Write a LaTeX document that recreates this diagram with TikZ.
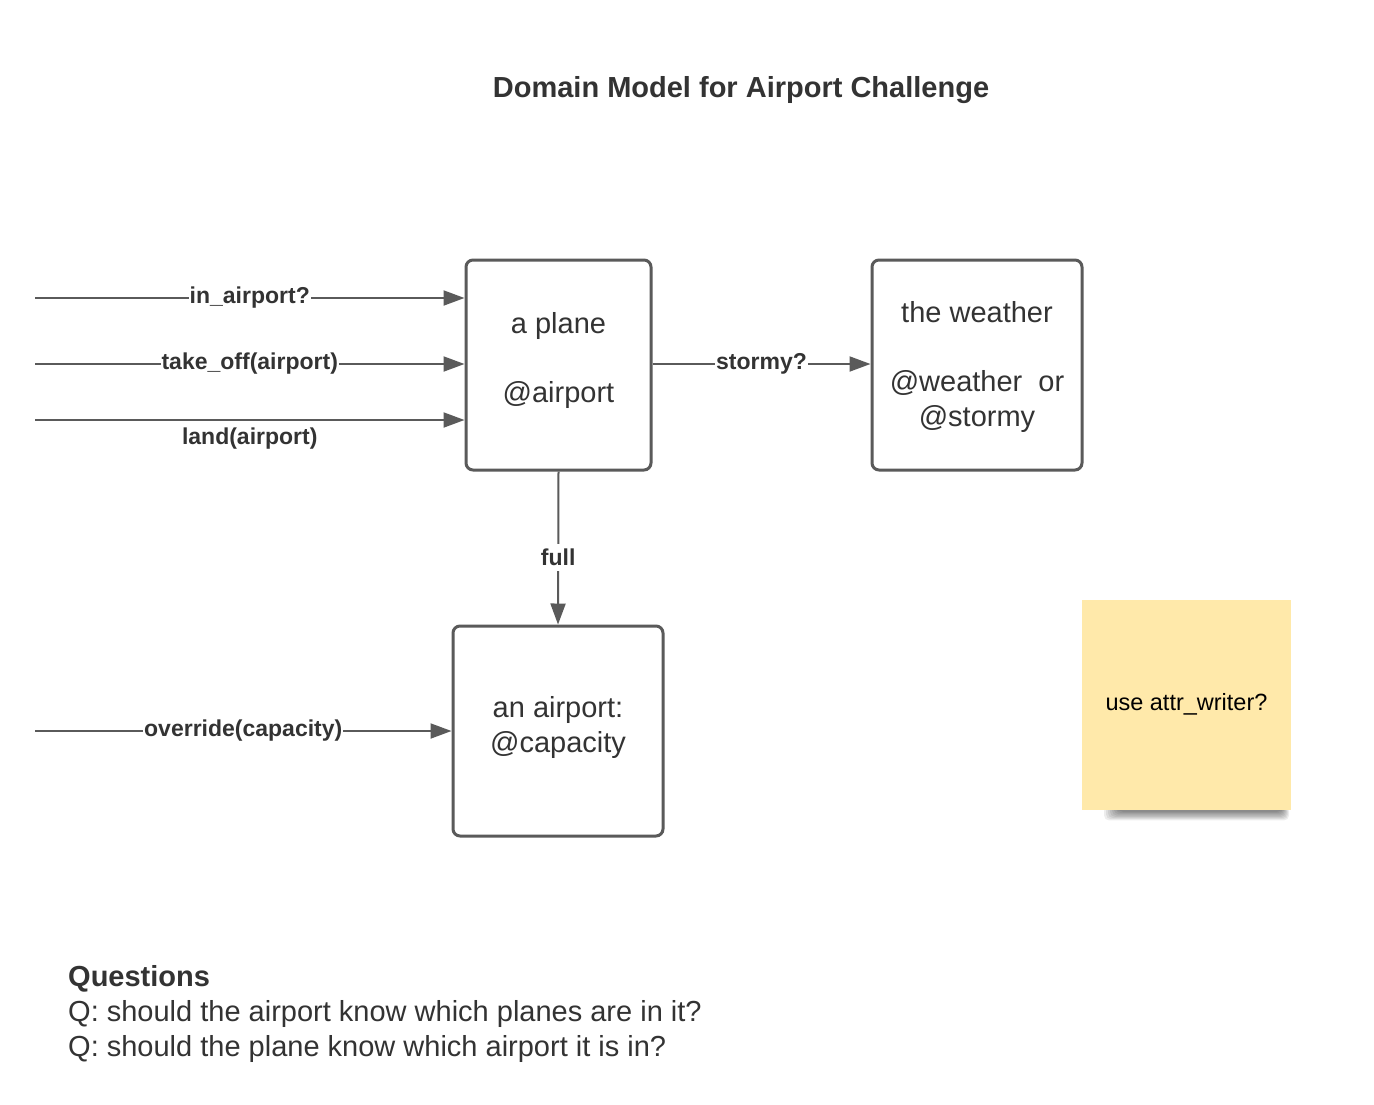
\documentclass[tikz,border=0pt]{standalone}
\usepackage{fontspec}
\setmainfont{Liberation Sans}
\usetikzlibrary{arrows.meta}
\definecolor{lineclr}{RGB}{90,90,90}
\definecolor{txtclr}{RGB}{51,51,51}
\definecolor{stickyclr}{RGB}{255,233,170}
\begin{document}
\begin{tikzpicture}[x=1pt,y=-1pt,
  box/.style={draw=lineclr, line width=3pt, rounded corners=7pt, minimum width=#1, minimum height=210pt, inner sep=0pt},
  boxtxt/.style={text=txtclr, align=center, font=\fontsize{29}{35}\selectfont, inner sep=0pt},
  conn/.style={draw=lineclr, line width=2pt, -{Triangle[length=21pt,width=15pt]}},
  lbl/.style={fill=white, text=txtclr, font=\bfseries\fontsize{23}{27}\selectfont, inner sep=1pt},
  sticky/.style={fill=stickyclr, minimum width=209pt, minimum height=210pt, inner sep=0pt},
  shadowpiece/.style={fill=black, opacity=0.07, rounded corners=5pt},
]
\useasboundingbox (0,0) rectangle (1374,1104);
\fill[white] (0,0) rectangle (1374,1104);

\node[text=txtclr, font=\bfseries\fontsize{29}{34}\selectfont] (title) at (741,90) {Domain Model for Airport Challenge};

% sticky shadow
\foreach \i in {0,...,7}
  \fill[shadowpiece] (1118-2*\i,806) rectangle (1282+\i,812+1.2*\i);

% boxes
\node[box=185pt] (plane) at (558.5,365) {};
\node[box=210pt] (weather) at (977,365) {};
\node[box=210pt] (airport) at (558,731) {};
\node[sticky] (note) at (1186.5,705) {};

\node[boxtxt] (planetxt1) at (558.5,326) {a plane};
\node[boxtxt] (planetxt2) at (558.5,395) {@airport};
\node[boxtxt] (weathertxt1) at (977,312) {the weather};
\node[boxtxt] (weathertxt2) at (977,401) {@weather\ \ or\\@stormy};
\node[boxtxt] (airporttxt) at (558,727) {an airport:\\@capacity};
\node[text=black, font=\fontsize{23.5}{28}\selectfont, inner sep=0pt] (notetxt) at (1186.5,704) {use attr\_writer?};

% free ends
\coordinate (s1) at (35,298);
\coordinate (s2) at (35,364);
\coordinate (s3) at (35,420);
\coordinate (s4) at (35,731);

\draw[conn] (s1) -- (plane.west |- s1) node[lbl, pos=0.5] (l1) {in\_airport?};
\draw[conn] (s2) -- (plane.west |- s2) node[lbl, pos=0.5] (l2) {take\_off(airport)};
\draw[conn] (s3) -- (plane.west |- s3) node[lbl, pos=0.5, below=6pt, fill=none] (l3) {land(airport)};
\draw[conn] (plane.east |- s2) -- (weather.west |- s2) node[lbl, pos=0.5] (l4) {stormy?};
\draw[conn] (plane.south) -- (airport.north) node[lbl, pos=0.56, inner sep=5pt] (l5) {full};
\draw[conn] (s4) -- (airport.west |- s4) node[lbl, pos=0.5] (l6) {override(capacity)};

% questions
\node[anchor=north west, align=left, text=txtclr, font=\fontsize{29}{35}\selectfont, inner sep=0pt] (questions) at (68,965)
  {\textbf{Questions}\\Q: should the airport know which planes are in it?\\Q: should the plane know which airport it is in?};
\end{tikzpicture}
\end{document}
